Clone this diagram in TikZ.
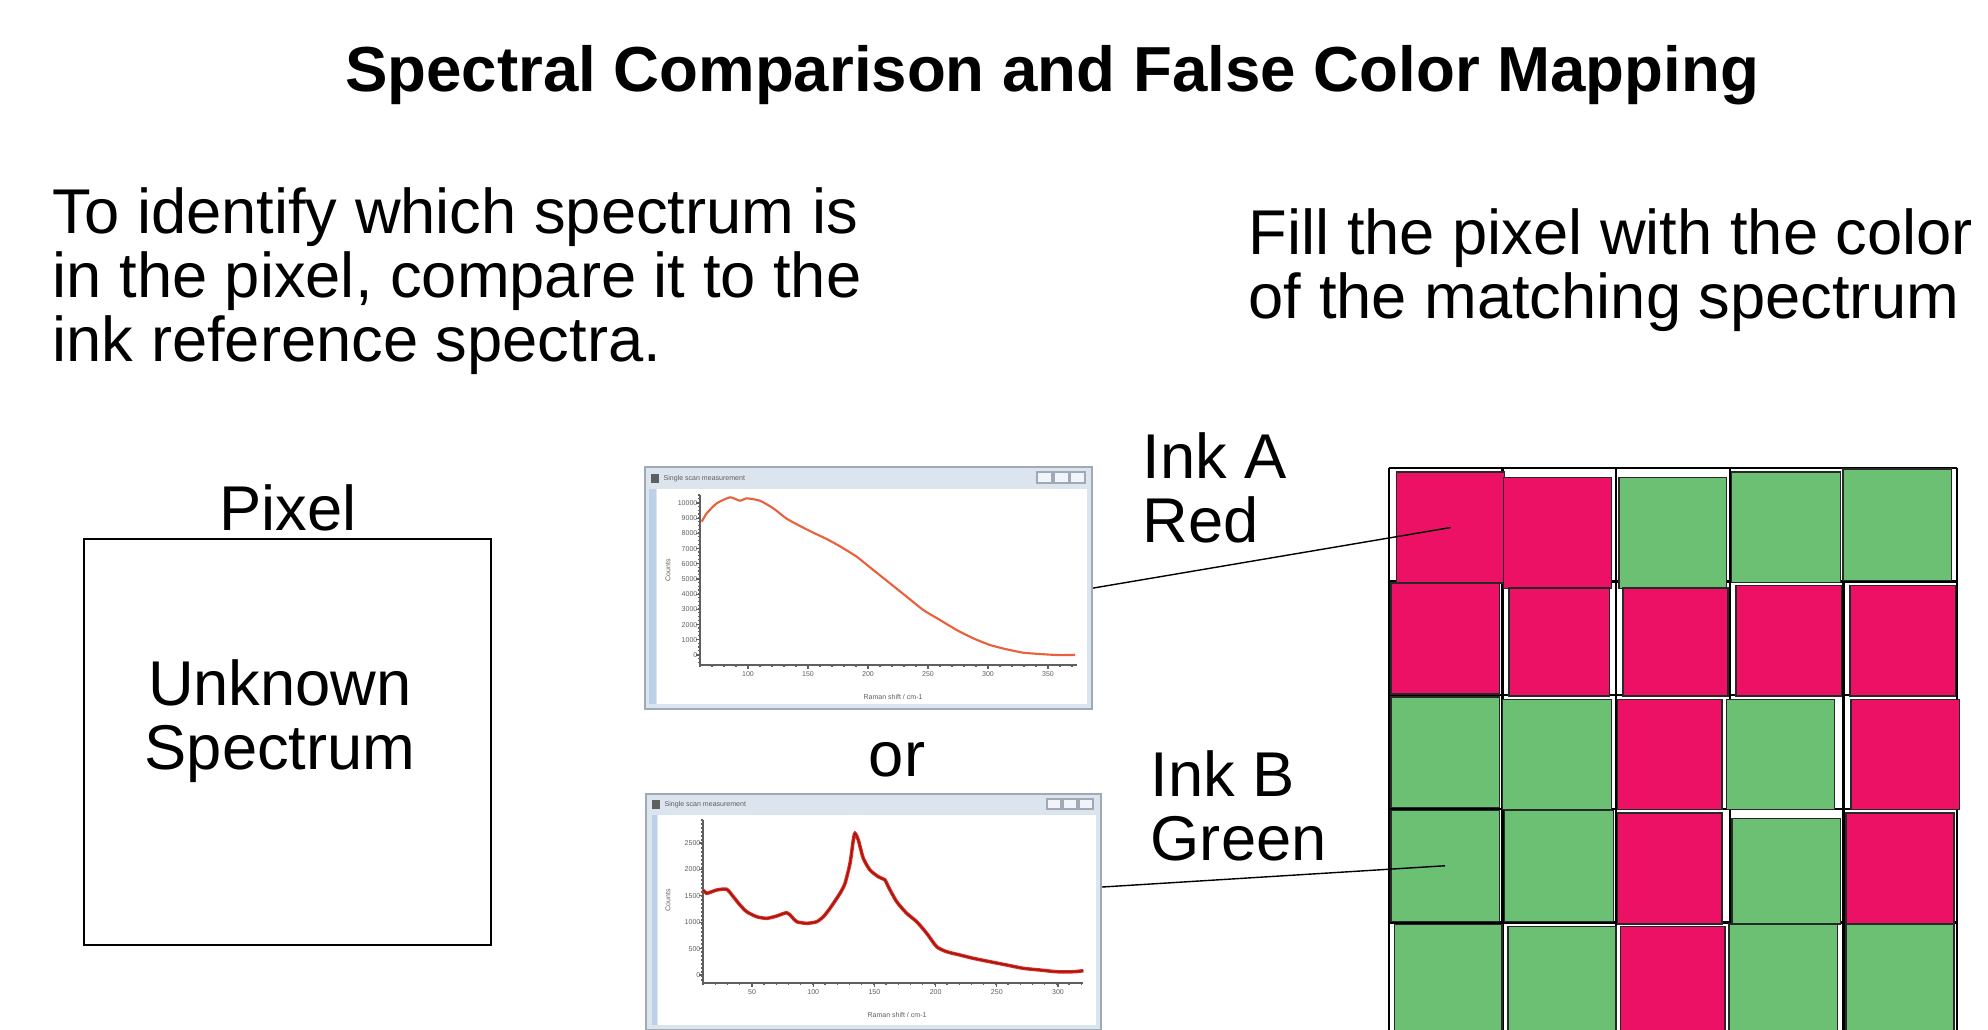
\documentclass[tikz,border=0pt]{standalone}
\usepackage{fontspec}
\setmainfont{Liberation Sans}
\usetikzlibrary{positioning}
\definecolor{InkRed}{RGB}{237,17,101}
\definecolor{InkGreen}{RGB}{108,192,116}
\definecolor{CellEdge}{RGB}{40,40,40}
\definecolor{WinBorder}{RGB}{160,170,182}
\definecolor{WinBar}{RGB}{220,228,237}
\definecolor{WinStrip}{RGB}{188,208,234}
\definecolor{TickGray}{RGB}{95,95,95}
\definecolor{CurveA}{RGB}{232,96,60}
\definecolor{CurveB}{RGB}{226,40,30}

\begin{document}
\begin{tikzpicture}[
  x=0.1mm, y=-0.1mm,
  headline/.style={font=\fontsize{18.1}{20}\selectfont\bfseries, inner sep=0pt},
  inktext/.style={font=\fontsize{18}{18.2}\selectfont, inner sep=0pt, align=left},
  pixelbox/.style={rectangle, draw=black, line width=0.45pt, anchor=north west,
    minimum width=40.7mm, minimum height=40.6mm},
  winframe/.style={rectangle, draw=WinBorder, fill=WinBar, line width=0.6pt,
    anchor=north west, inner sep=0pt},
  wintitle/.style={font=\fontsize{2}{2.2}\selectfont, text=TickGray, anchor=west, inner sep=0pt},
  ticklabel/.style={font=\fontsize{2}{2.2}\selectfont, text=TickGray, inner sep=0.6pt},
  axisline/.style={draw=TickGray, line width=0.3pt},
  winbutton/.style={draw=WinBorder, fill=white!60!WinBar, line width=0.3pt},
  gridline/.style={draw=black, line width=0.7pt},
  cellbox/.style={rectangle, draw=CellEdge, line width=0.4pt, anchor=north west, inner sep=0pt},
  leader/.style={draw=black, line width=0.4pt}
]
\useasboundingbox (0,0) rectangle (1988,1029);

% --- HEADINGS (multi-line nodes sit on their last baseline) ---
\node[headline, anchor=base] (title) at (1052,91) {Spectral Comparison and False Color Mapping};
\node[inktext, anchor=base west] (intro) at (52,361)
  {To identify which spectrum is\\in the pixel, compare it to the\\ink reference spectra.};
\node[inktext, anchor=base west] (fillnote) at (1248,318)
  {Fill the pixel with the color\\of the matching spectrum};

% --- UNKNOWN PIXEL ---
\node[inktext, anchor=base] (pixellabel) at (288,530) {Pixel};
\node[pixelbox] (pixel) at (83,538) {};
\node[inktext, align=center, anchor=base] (unknown) at (280,769) {Unknown\\Spectrum};

% --- REFERENCE SPECTRUM A ---
\begin{scope}[shift={(644,466)}]
  \node[winframe, minimum width=44.7mm, minimum height=24.2mm] (specA) at (0,0) {};
  \fill[white] (13,23) rectangle (443,238);
  \fill[WinStrip] (5,23) rectangle (12,238);
  \fill[TickGray] (7,8) rectangle (15,17);
  \node[wintitle] (titleA) at (19,12.5) {Single scan measurement};
  \foreach \bx in {393,410,426} \draw[winbutton] (\bx,6) rectangle ++(15,11);
  \draw[axisline] (56,29) -- (56,199) -- (433,199);
  \foreach \k in {0,...,44} \draw[axisline] (54,{29+\k*3.8}) -- (56,{29+\k*3.8});
  \foreach \k in {0,...,31} \draw[axisline] ({56+\k*12},199) -- ({56+\k*12},201);
  \foreach \i/\lab in {0/10000,1/9000,2/8000,3/7000,4/6000,5/5000,6/4000,7/3000,8/2000,9/1000,10/0}
    \draw[axisline] (52,{37+\i*15.2}) -- (56,{37+\i*15.2}) node[ticklabel, left] (ya\i) {\lab};
  \foreach \i/\lab in {0/100,1/150,2/200,3/250,4/300,5/350}
    \draw[axisline] ({104+\i*60},199) -- ({104+\i*60},203) node[ticklabel, below] (xa\i) {\lab};
  \node[ticklabel] (xtitleA) at (249,231) {Raman shift / cm-1};
  \node[ticklabel, rotate=90] (ytitleA) at (24,104) {Counts};
  \draw[CurveA, line width=0.6pt] plot[smooth, tension=0.3] coordinates {
    (57.7,55.7) (62.7,47.3) (72.7,37.3) (86,31.3) (96,34.7) (102.7,32.3) (116,34.7)
    (129.3,42.3) (142.7,52.7) (156,60) (169.3,66.7) (182.7,73) (196,80.3) (212.7,90.7)
    (229.3,104) (246,117.3) (262.7,130.7) (279.3,144) (296,154) (312.7,164) (329.3,172.3)
    (346,179) (362.7,183.3) (379.3,186.7) (396,188) (412.7,189) (431,189)};
\end{scope}

\node[inktext, anchor=base] (or) at (897,776) {or};

% --- REFERENCE SPECTRUM B ---
\begin{scope}[shift={(645,793)}]
  \node[winframe, minimum width=45.5mm, minimum height=23.6mm] (specB) at (0,0) {};
  \fill[white] (13,22) rectangle (451,232);
  \fill[WinStrip] (7,22) rectangle (12,232);
  \fill[TickGray] (7,7) rectangle (15,16);
  \node[wintitle] (titleB) at (19,11.5) {Single scan measurement};
  \foreach \bx in {402,418,434} \draw[winbutton] (\bx,6) rectangle ++(14,10);
  \draw[axisline] (58,27) -- (58,190) -- (438,190);
  \foreach \k in {0,...,40} \draw[axisline] (56,{27+\k*4}) -- (58,{27+\k*4});
  \foreach \k in {0,...,31} \draw[axisline] ({58+\k*12.2},190) -- ({58+\k*12.2},192);
  \foreach \i/\lab in {0/2500,1/2000,2/1500,3/1000,4/500,5/0}
    \draw[axisline] (54,{50+\i*26.4}) -- (58,{50+\i*26.4}) node[ticklabel, left] (yb\i) {\lab};
  \foreach \i/\lab in {0/50,1/100,2/150,3/200,4/250,5/300}
    \draw[axisline] ({107+\i*61.2},190) -- ({107+\i*61.2},194) node[ticklabel, below] (xb\i) {\lab};
  \node[ticklabel] (xtitleB) at (252,222) {Raman shift / cm-1};
  \node[ticklabel, rotate=90] (ytitleB) at (23,107) {Counts};
  \draw[CurveB, line width=1pt] plot[smooth, tension=0.4] coordinates {
    (58.3,97) (61.7,100.3) (71.7,97) (81.7,96.3) (88.3,103.7) (95,112) (101.7,118.7)
    (111.7,123.7) (121.7,125.3) (131.7,123) (141.7,119.7) (146.7,123.7) (151.7,128.7)
    (161.7,130.3) (171.7,128.7) (178.3,123.7) (185,115.3) (195,100.3) (200,90.3) (205,70.3)
    (208.3,47) (210,40.3) (213.3,47) (218.3,65.3) (225,77) (233.3,83.7) (240,87) (243.3,93.7)
    (251.7,108.7) (261.7,120.3) (271.7,128.7) (281.7,140.3) (291.7,153.7) (301.7,158.7)
    (315,162) (328.3,165.3) (345,168.7) (361.7,172) (378.3,175.3) (395,177) (411.7,178.7)
    (428.3,178.7) (438.3,177.7)};
  \draw[CurveB!65!black, line width=0.35pt] plot[smooth, tension=0.4] coordinates {
    (58.3,97) (61.7,100.3) (71.7,97) (81.7,96.3) (88.3,103.7) (95,112) (101.7,118.7)
    (111.7,123.7) (121.7,125.3) (131.7,123) (141.7,119.7) (146.7,123.7) (151.7,128.7)
    (161.7,130.3) (171.7,128.7) (178.3,123.7) (185,115.3) (195,100.3) (200,90.3) (205,70.3)
    (208.3,47) (210,40.3) (213.3,47) (218.3,65.3) (225,77) (233.3,83.7) (240,87) (243.3,93.7)
    (251.7,108.7) (261.7,120.3) (271.7,128.7) (281.7,140.3) (291.7,153.7) (301.7,158.7)
    (315,162) (328.3,165.3) (345,168.7) (361.7,172) (378.3,175.3) (395,177) (411.7,178.7)
    (428.3,178.7) (438.3,177.7)};
\end{scope}

% --- INK LABELS ---
\node[inktext, anchor=base west] (inkA) at (1142,542) {Ink A\\Red};
\node[inktext, anchor=base west] (inkB) at (1150,860) {Ink B\\Green};

% --- FALSE COLOUR MAP ---
\foreach \k in {0,...,5} {
  \draw[gridline] ({1389+\k*113.6},468) -- ({1389+\k*113.6},1040);
  \draw[gridline] (1389,{468+\k*113.6}) -- (1957,{468+\k*113.6});
}
\foreach \row/\col/\ink/\xa/\xb/\ya/\yb in {
    1/1/InkRed/0.06/1.01/0.03/1.006, 1/2/InkRed/0/0.95/0.075/1.055,
    1/3/InkGreen/0.017/0.963/0.075/1.055, 1/4/InkGreen/0.01/0.966/0.03/1.0,
    1/5/InkGreen/-0.01/0.945/0.003/0.984,
    2/1/InkRed/0.01/0.966/0.007/0.984, 2/2/InkRed/0.05/0.935/0.05/1.0,
    2/3/InkRed/0.054/0.976/0.05/1.0, 2/4/InkRed/0.048/0.976/0.026/1.0,
    2/5/InkRed/0.051/0.98/0.026/1.0,
    3/1/InkGreen/0.01/0.966/0.01/0.984, 3/2/InkGreen/-0.007/0.95/0.032/1.0,
    3/3/InkRed/0.007/0.925/0.032/1.0, 3/4/InkGreen/-0.034/0.915/0.032/1.0,
    3/5/InkRed/0.061/1.014/0.032/1.0,
    4/1/InkGreen/0.01/0.966/0.006/0.984, 4/2/InkGreen/0.01/0.97/0.006/0.984,
    4/3/InkRed/0.007/0.925/0.032/1.006, 4/4/InkGreen/0.014/0.966/0.08/1.006,
    4/5/InkRed/0.017/0.966/0.032/1.006,
    5/1/InkGreen/0.044/0.99/0.013/0.97, 5/2/InkGreen/0.041/0.993/0.032/0.97,
    5/3/InkRed/0.03/0.953/0.032/0.97, 5/4/InkGreen/-0.014/0.942/0.006/0.97,
    5/5/InkGreen/0.017/0.966/0.013/0.97}
{
  \node[cellbox, fill=\ink, minimum width={(\xb-(\xa))*11.36mm}, minimum height={(\yb-(\ya))*11.36mm}]
    (cell-\row-\col) at ({1389+(\col-1+(\xa))*113.6},{468+(\row-1+(\ya))*113.6}) {};
}

% --- LEADERS ---
\coordinate (tapB) at ([yshift=-9.4mm]specB.north east);
\draw[leader] (specA.east) -- (cell-1-1.center);
\draw[leader] (tapB) -- (cell-4-1.center);

\end{tikzpicture}
\end{document}
